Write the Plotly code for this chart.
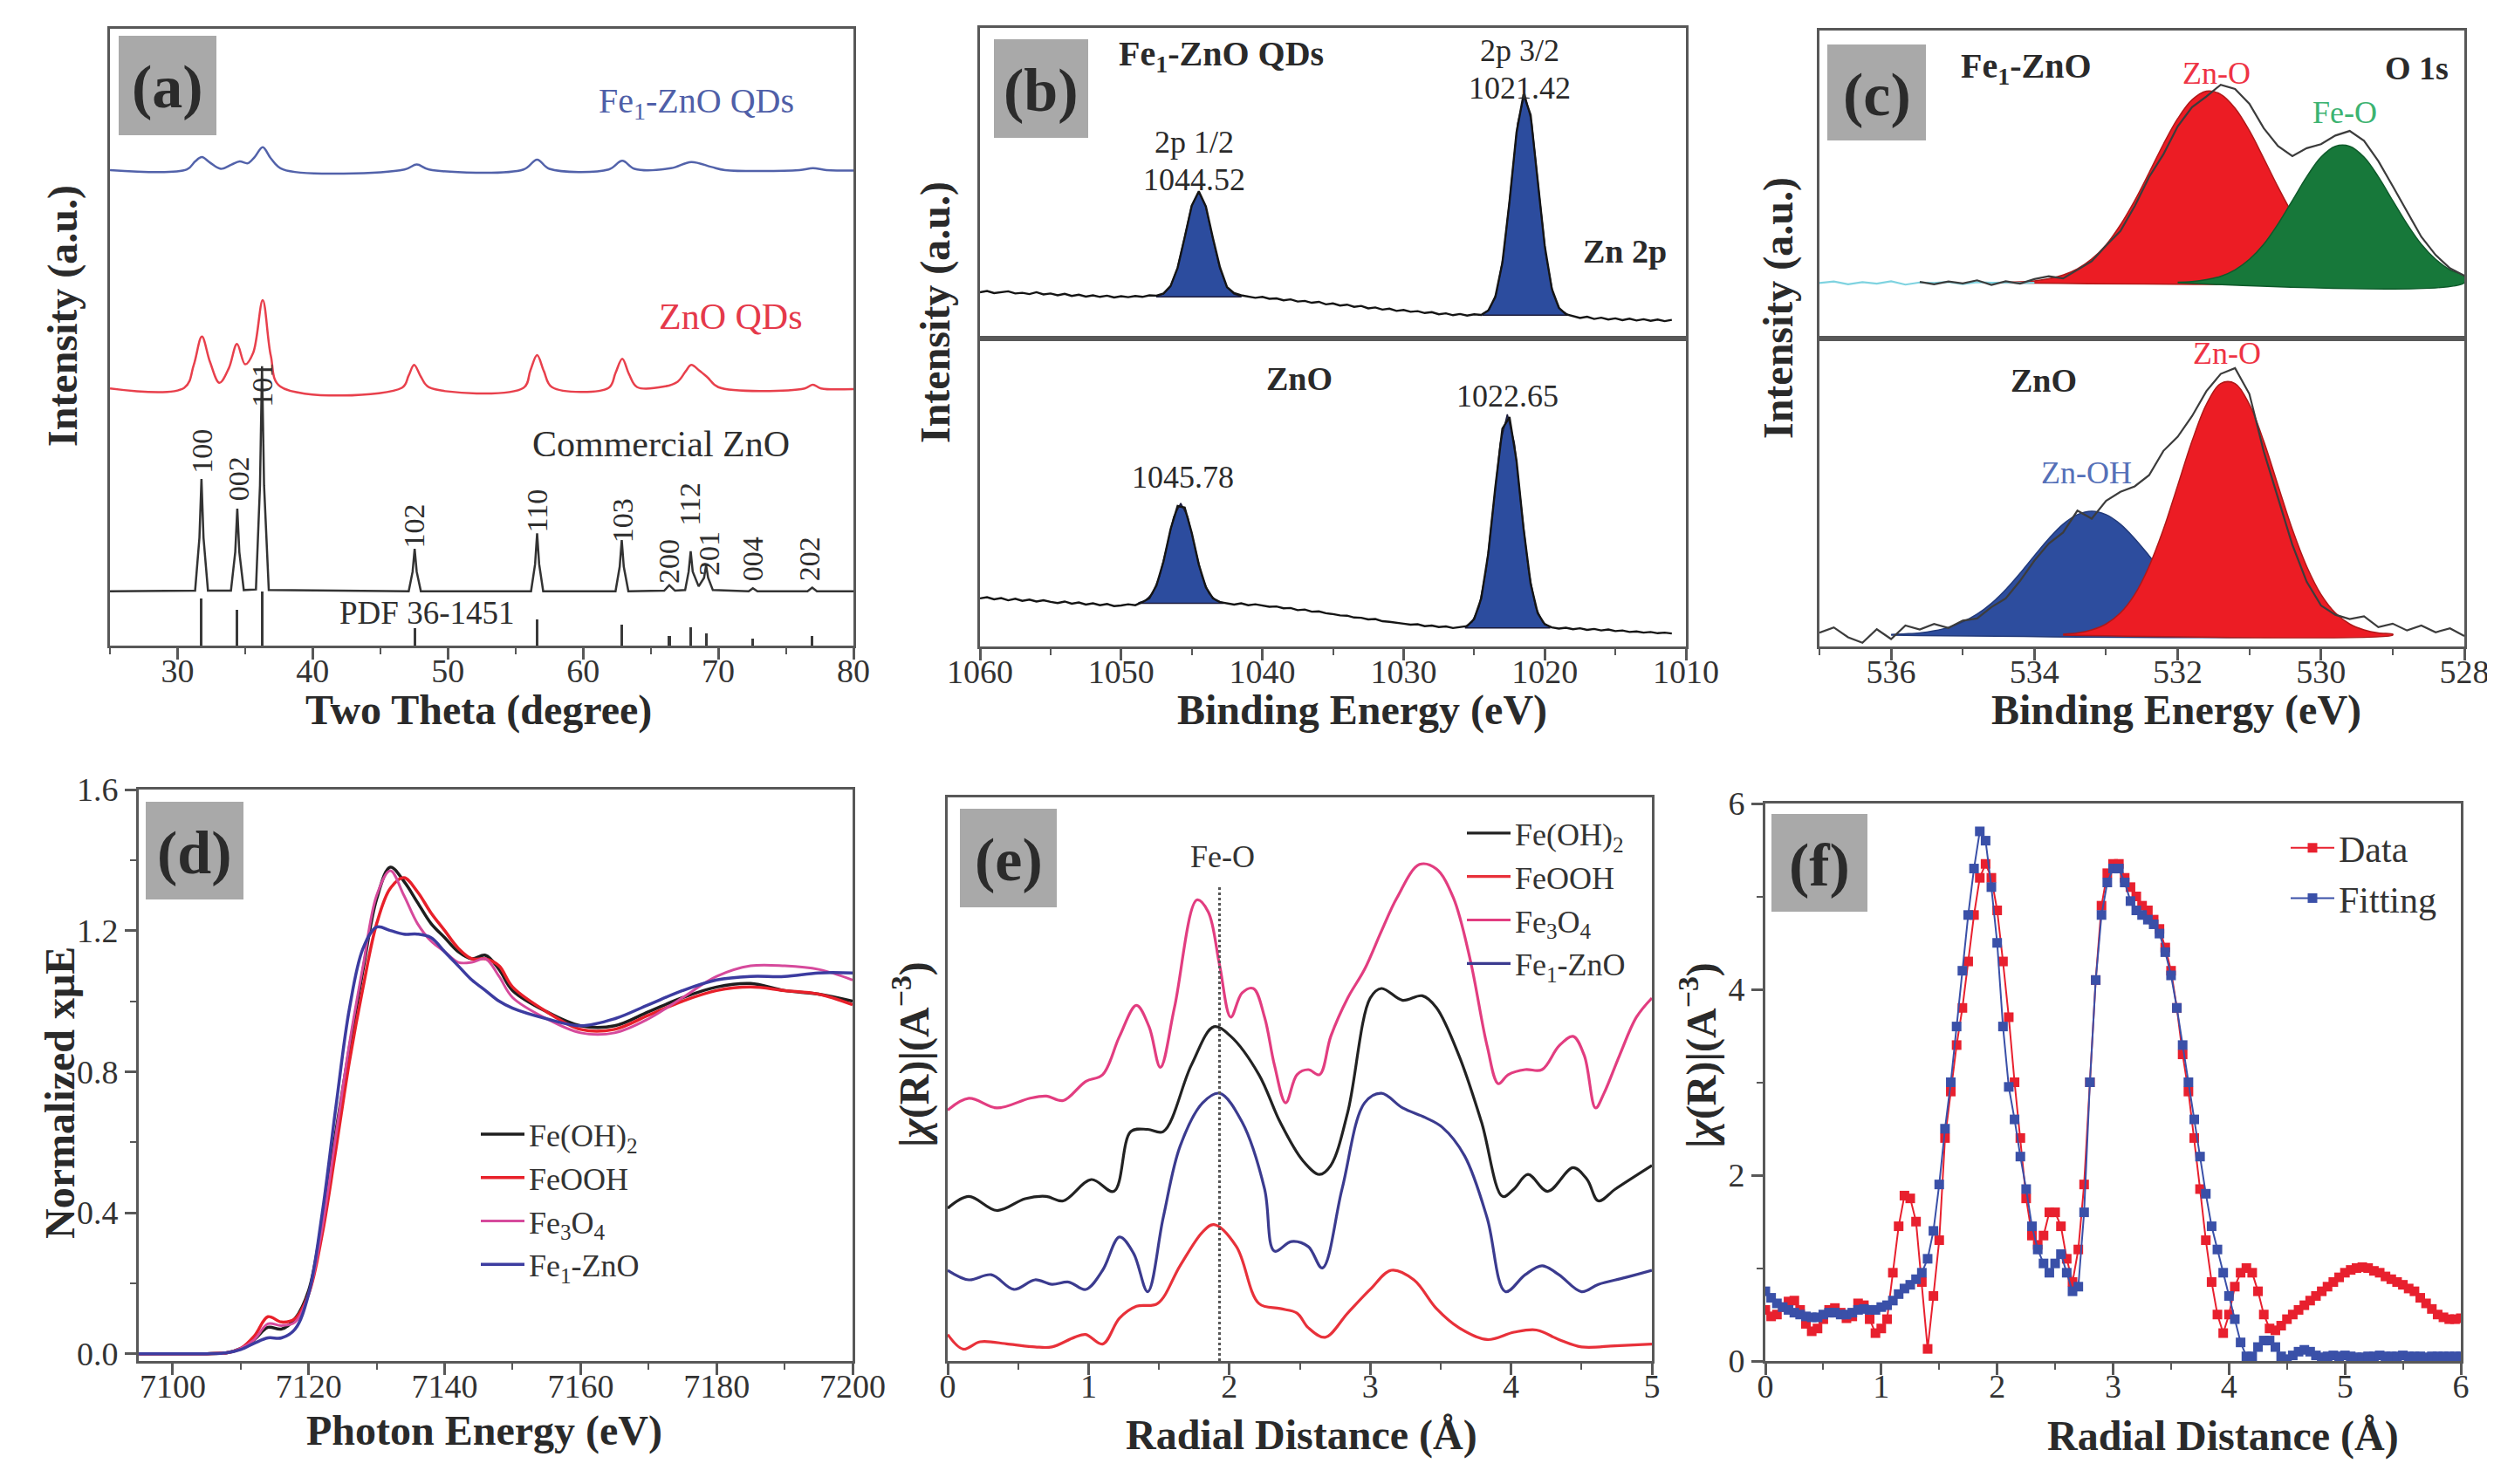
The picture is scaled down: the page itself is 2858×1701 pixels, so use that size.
import numpy as np
import plotly.graph_objects as go

W, H = 2858, 1701
FONT = "Liberation Serif"
FRAME = "#585858"
TXT = "#2a2a2a"


def px(x):
    return x / W


def py(y):
    return 1 - y / H


# ---------------- (a) XRD ----------------
xrd_fe_x = [25, 30.7, 31.3, 31.8, 32.4, 33.2, 34.0, 34.6, 35.2, 35.7, 36.3, 36.9, 37.8, 46.8, 47.7, 48.6,
            55.6, 56.6, 57.5, 61.9, 62.9, 63.8, 66.5, 68.0, 69.5, 70.5, 76.0, 77.0, 78.0, 80]
xrd_fe_y = [77.1, 77.2, 78.5, 79.2, 78.3, 77.3, 78.0, 78.5, 78.2, 79.2, 80.8, 79.0, 77.2, 77.2, 78.0, 77.2,
            77.2, 78.8, 77.3, 77.2, 78.6, 77.3, 77.4, 78.4, 77.6, 77.1, 77.1, 77.4, 77.1, 77.0]
xrd_qd_x = [25, 30.5, 31.2, 31.8, 32.4, 33.1, 33.8, 34.4, 35.0, 35.6, 36.3, 36.9, 37.6, 46.6, 47.1, 47.5,
            48.0, 48.6, 55.6, 56.1, 56.6, 57.1, 57.7, 61.9, 62.4, 62.9, 63.4, 64.0, 66.0, 67.0, 67.6, 68.0,
            68.6, 69.2, 70.0, 76.4, 77.0, 77.6, 80]
xrd_qd_y = [41.7, 41.8, 45.5, 50.1, 46.0, 42.6, 45.0, 48.9, 45.6, 47.5, 56.0, 47.0, 42.0, 41.8, 43.8, 45.5,
            43.6, 41.9, 41.8, 44.6, 47.1, 44.5, 41.9, 41.8, 44.2, 46.5, 44.0, 41.9, 42.0, 42.8, 44.5, 45.5,
            44.6, 43.5, 41.9, 41.7, 42.3, 41.7, 41.6]
xrd_comm_x = [25.0, 31.3, 31.62, 31.77, 31.92, 32.25, 33.95, 34.27, 34.42, 34.57, 34.9, 35.8, 36.1, 36.25,
              36.4, 36.75, 47.1, 47.39, 47.54, 47.69, 48.0, 56.15, 56.45, 56.6, 56.75, 57.05, 62.4, 62.71,
              62.86, 63.01, 63.35, 66.0, 66.38, 66.8, 67.55, 67.81, 67.96, 68.11, 68.55, 68.95, 69.1, 69.25,
              69.6, 72.25, 72.56, 72.9, 76.6, 76.95, 77.3, 80.0]
xrd_comm_y = [8.8, 8.9, 17.5, 27.0, 17.5, 8.9, 8.9, 15.2, 22.2, 15.2, 9.0, 9.1, 26.0, 45.3,
              26.0, 9.0, 8.8, 12.0, 15.7, 12.0, 8.8, 8.8, 13.2, 18.2, 13.2, 8.8, 8.8, 12.8,
              17.1, 12.8, 8.8, 8.9, 9.8, 8.9, 9.0, 12.0, 15.3, 12.0, 9.6, 11.0, 13.0, 11.0,
              9.0, 8.8, 9.3, 8.8, 8.8, 9.4, 8.8, 8.8]
pdf_pos = [31.77, 34.42, 36.25, 47.54, 56.60, 62.86, 66.38, 67.96, 69.10, 72.56, 76.95]
pdf_int = [7.6, 5.8, 8.8, 2.8, 4.2, 3.4, 1.5, 3.0, 2.0, 1.2, 1.5]
miller_names = ["100", "002", "101", "102", "110", "103", "200", "112", "201", "004", "202"]
miller_x = [31.8, 34.5, 36.3, 47.5, 56.6, 62.9, 66.3, 67.9, 69.3, 72.5, 76.7]
miller_y = [31.5, 27.0, 42.2, 19.4, 21.8, 20.2, 13.7, 22.9, 14.9, 14.1, 14.1]

# ---------------- (b) Zn 2p ----------------
zn_x = list(np.round(np.arange(1060, 1010.9, -0.5), 1))
zn_top_y = [14.9, 15.3, 14.6, 14.8, 15.2, 14.5, 14.7, 14.3, 14.9, 14.2,
            14.5, 13.9, 14.4, 13.7, 14.1, 13.5, 13.9, 13.4, 13.8, 13.2,
            13.6, 13.3, 13.7, 13.4, 13.9, 13.8, 14.5, 16.9, 22.8, 32.6,
            42.8, 47.4, 42.5, 32.3, 22.9, 16.5, 14.6, 13.9, 13.5, 13.1,
            13.4, 12.8, 12.9, 12.3, 12.6, 11.9, 12.1, 11.5, 11.8, 11.0,
            11.3, 10.6, 10.9, 10.2, 10.5, 9.7, 10.0, 9.3, 9.6, 8.9,
            9.2, 8.6, 8.8, 8.2, 8.5, 7.8, 8.1, 7.5, 7.9, 7.4,
            7.8, 7.6, 9.0, 13.4, 24.4, 43.9, 66.3, 78.6, 72.0, 51.3,
            29.8, 16.0, 9.9, 7.8, 7.2, 6.6, 7.0, 6.3, 6.7, 6.1,
            6.5, 5.9, 6.4, 5.8, 6.2, 5.7, 6.1, 5.6, 6.0]
zn_bot_y = [15.6, 16.0, 15.3, 15.7, 15.0, 15.5, 14.8, 15.2, 14.6, 15.0,
            14.5, 14.1, 14.6, 13.9, 14.3, 13.6, 14.0, 13.4, 13.8, 13.1,
            13.3, 13.7, 13.4, 14.4, 15.7, 19.8, 27.6, 38.1, 45.6, 45.1,
            36.9, 26.6, 19.2, 15.6, 14.4, 14.1, 13.6, 14.0, 13.4, 13.7,
            13.3, 12.9, 13.0, 12.4, 12.5, 11.8, 12.0, 11.3, 11.4, 10.8,
            10.5, 10.1, 10.0, 9.4, 9.3, 8.8, 8.9, 8.2, 8.0, 7.6,
            7.4, 7.1, 7.2, 6.6, 6.8, 6.3, 6.5, 6.0, 6.4, 6.6,
            8.9, 15.6, 30.2, 51.7, 70.7, 74.5, 60.4, 38.3, 20.4, 10.8,
            7.2, 6.2, 5.8, 6.1, 5.6, 5.9, 5.4, 5.7, 5.2, 5.5,
            5.0, 5.2, 4.7, 4.9, 4.5, 4.7, 4.3, 4.5, 4.2]
zn_top_p1_x = [1047.52, 1047.02, 1046.52, 1046.02, 1045.52, 1045.02, 1044.52, 1044.02, 1043.52, 1043.02,
               1042.52, 1042.02, 1041.52]
zn_top_p1_y = [13.6, 14.3, 16.7, 22.6, 32.4, 42.6, 47.2, 42.6, 32.4, 22.6, 16.7, 14.3, 13.6]
zn_top_p1_base = 13.4
zn_top_p2_x = [1024.42, 1023.92, 1023.42, 1022.92, 1022.42, 1021.92, 1021.42, 1020.92, 1020.42, 1019.92,
               1019.42, 1018.92, 1018.42]
zn_top_p2_y = [7.9, 9.4, 14.6, 26.9, 47.6, 69.3, 78.9, 69.3, 47.6, 26.9, 14.6, 9.4, 7.9]
zn_top_p2_base = 7.5
zn_bot_p1_x = [1048.78, 1048.28, 1047.78, 1047.28, 1046.78, 1046.28, 1045.78, 1045.28, 1044.78, 1044.28,
               1043.78, 1043.28, 1042.78]
zn_bot_p1_y = [14.2, 14.9, 17.2, 22.8, 32.2, 42.1, 46.5, 42.1, 32.2, 22.8, 17.2, 14.9, 14.2]
zn_bot_p1_base = 14.0
zn_bot_p2_x = [1025.65, 1025.15, 1024.65, 1024.15, 1023.65, 1023.15, 1022.65, 1022.15, 1021.65, 1021.15,
               1020.65, 1020.15, 1019.65]
zn_bot_p2_y = [6.4, 7.9, 12.9, 24.9, 44.9, 66.0, 75.4, 66.0, 44.9, 24.9, 12.9, 7.9, 6.4]
zn_bot_p2_base = 6.0

# ---------------- (c) O 1s ----------------
o_top_base = 18.1
o_top_zno_x = list(np.round(np.arange(534.6, 528.55, -0.2), 1))
o_top_zno_y = [18.2, 18.2, 18.4, 18.7, 19.4, 20.6, 22.6, 25.8, 30.4, 36.9, 44.8, 53.8, 63.1, 71.4, 77.5, 80.3,
               79.3, 74.8, 67.5, 58.5, 49.2, 40.6, 33.4, 27.9, 24.0, 21.4, 19.9, 19.0, 18.5, 18.3, 18.2]
o_top_feo_x = list(np.round(np.arange(532.0, 527.95, -0.2), 1))
o_top_feo_y = [18.3, 18.5, 19.1, 20.2, 22.3, 25.7, 30.6, 37.2, 44.8, 52.5, 58.9, 62.4, 62.4, 58.9, 52.5,
               44.8, 37.2, 30.6, 25.7, 22.3, 20.2]
o_top_data_x = list(np.round(np.arange(535.6, 527.95, -0.2), 1))
o_top_data_y = [18.4, 17.6, 18.5, 17.9, 18.9, 17.4, 18.6, 17.8, 19.3, 20.2, 19.5, 22.4, 25.1, 30.2, 34.9,
                43.0, 52.4, 59.8, 68.9, 75.1, 78.6, 82.4, 81.0, 76.2, 68.3, 62.5, 59.2, 61.8, 63.1, 65.9,
                67.4, 64.2, 57.6, 49.5, 41.3, 33.0, 27.1, 22.8, 20.4]
o_top_fit_x = list(np.round(np.arange(537.0, 533.95, -0.2), 1))
o_top_fit_y = [18.0, 18.5, 17.6, 18.3, 17.8, 18.6, 17.5, 18.2, 18.0, 18.4, 17.7, 18.3, 18.1, 18.2, 18.0, 18.1]
o_bot_base = 3.7
o_bot_znoh_x = list(np.round(np.arange(536.0, 530.35, -0.2), 1))
o_bot_znoh_y = [3.9, 4.1, 4.4, 5.1, 6.2, 8.0, 10.5, 14.0, 18.5, 23.8, 29.5, 35.0, 39.7, 42.8, 43.9, 42.8,
                39.7, 35.0, 29.5, 23.8, 18.5, 14.0, 10.5, 8.0, 6.2, 5.1, 4.4, 4.1, 3.9]
o_bot_zno_x = list(np.round(np.arange(533.6, 528.95, -0.2), 1))
o_bot_zno_y = [4.0, 4.4, 5.4, 7.3, 10.9, 16.9, 26.0, 38.0, 52.3, 66.7, 78.6, 85.4, 85.4, 78.6, 66.7, 52.3,
               38.0, 26.0, 16.9, 10.9, 7.3, 5.4, 4.4, 4.0]
o_bot_data_x = list(np.round(np.arange(537.0, 527.95, -0.2), 1))
o_bot_data_y = [4.5, 6.2, 3.0, 1.2, 5.6, 2.4, 6.8, 5.5, 7.3, 6.0, 8.4, 9.1, 12.8, 15.6, 21.3, 27.9, 33.4,
                37.0, 44.1, 41.5, 47.3, 50.2, 52.0, 55.6, 63.5, 68.1, 74.8, 82.9, 88.5, 90.4, 82.0, 63.4,
                48.2, 33.0, 21.0, 13.3, 10.3, 8.9, 9.8, 6.3, 7.4, 5.2, 6.8, 4.6, 5.9, 3.4]

# ---------------- (d) XANES ----------------
xanes_x = [7095, 7100, 7105, 7108, 7110, 7112, 7114, 7116, 7118, 7120, 7122, 7124, 7126, 7128, 7130, 7132,
           7134, 7136, 7138, 7140, 7142, 7144, 7146, 7148, 7150, 7155, 7160, 7165, 7170, 7175, 7180, 7185,
           7190, 7195, 7200]
xanes_feoh2 = [0, 0, 0, 0.003, 0.015, 0.04, 0.075, 0.07, 0.10, 0.18, 0.38, 0.63, 0.87, 1.09, 1.29, 1.38,
               1.34, 1.28, 1.22, 1.18, 1.14, 1.12, 1.13, 1.09, 1.03, 0.97, 0.93, 0.93, 0.97, 1.01, 1.04,
               1.05, 1.03, 1.02, 1.00]
xanes_feooh = [0, 0, 0, 0.003, 0.015, 0.05, 0.105, 0.09, 0.10, 0.17, 0.34, 0.58, 0.83, 1.04, 1.22, 1.32,
               1.35, 1.31, 1.25, 1.20, 1.15, 1.12, 1.12, 1.10, 1.04, 0.97, 0.92, 0.92, 0.96, 1.00, 1.03,
               1.04, 1.03, 1.02, 0.99]
xanes_fe3o4 = [0, 0, 0, 0.003, 0.015, 0.04, 0.085, 0.08, 0.09, 0.17, 0.36, 0.62, 0.88, 1.10, 1.30, 1.37,
               1.30, 1.22, 1.17, 1.14, 1.11, 1.11, 1.12, 1.07, 1.01, 0.95, 0.91, 0.91, 0.95, 1.01, 1.07,
               1.10, 1.10, 1.09, 1.06]
xanes_fe1zno = [0, 0, 0, 0.003, 0.012, 0.03, 0.045, 0.045, 0.07, 0.17, 0.40, 0.70, 0.98, 1.15, 1.21, 1.20,
                1.19, 1.19, 1.18, 1.14, 1.10, 1.06, 1.03, 1.00, 0.98, 0.95, 0.93, 0.95, 0.99, 1.03, 1.06,
                1.07, 1.07, 1.08, 1.08]

# ---------------- (e) EXAFS references ----------------
exafs_fe3o4_x = [0, 0.15, 0.35, 0.58, 0.70, 0.82, 0.98, 1.10, 1.22, 1.34, 1.43, 1.51, 1.61, 1.77, 1.85, 1.93,
                 2.01, 2.09, 2.17, 2.25, 2.32, 2.40, 2.48, 2.56, 2.64, 2.72, 2.84, 2.96, 3.08, 3.19, 3.35,
                 3.47, 3.59, 3.71, 3.83, 3.91, 3.98, 4.10, 4.22, 4.34, 4.44, 4.52, 4.60, 4.66, 4.77, 4.89, 5.0]
exafs_fe3o4_y = [44.5, 46.6, 44.9, 46.6, 47.0, 46.2, 49.6, 50.8, 57.6, 63.1, 59.3, 52.1, 62.7, 81.8, 79.7,
                 70.3, 61.0, 65.3, 66.1, 61.0, 52.5, 45.8, 50.8, 51.7, 50.8, 57.6, 64.4, 69.5, 76.3, 82.2,
                 88.1, 87.3, 82.2, 71.2, 55.9, 49.2, 50.8, 51.7, 51.7, 55.9, 57.6, 54.2, 44.9, 47.5, 54.2,
                 61.0, 64.4]
exafs_feoh2_x = [0, 0.15, 0.35, 0.55, 0.70, 0.82, 1.02, 1.18, 1.30, 1.42, 1.53, 1.73, 1.89, 2.01, 2.21,
                 2.36, 2.52, 2.64, 2.72, 2.84, 3.00, 3.08, 3.23, 3.37, 3.47, 3.63, 3.79, 3.94, 4.02, 4.12,
                 4.26, 4.44, 4.54, 4.62, 4.74, 5.0]
exafs_feoh2_y = [27.1, 29.2, 26.7, 28.8, 29.2, 28.4, 32.2, 30.1, 40.7, 41.1, 40.7, 52.5, 59.3, 57.6, 50.8,
                 42.4, 35.6, 33.1, 34.7, 44.1, 64.4, 66.1, 64.0, 64.8, 62.7, 54.2, 42.4, 29.2, 30.5, 33.1,
                 30.1, 34.3, 32.2, 28.4, 30.5, 34.7]
exafs_fe1_x = [0, 0.15, 0.31, 0.47, 0.62, 0.74, 0.86, 0.98, 1.10, 1.22, 1.32, 1.42, 1.53, 1.65, 1.81, 1.93,
               2.09, 2.25, 2.32, 2.44, 2.56, 2.66, 2.80, 2.96, 3.08, 3.23, 3.39, 3.51, 3.67, 3.83, 3.96,
               4.10, 4.22, 4.34, 4.50, 4.62, 4.81, 5.0]
exafs_fe1_y = [16.1, 14.4, 15.3, 12.7, 14.4, 13.6, 14.0, 12.7, 16.1, 22.0, 19.1, 12.3, 25.4, 38.1, 45.8,
               47.5, 42.4, 30.5, 19.5, 21.2, 20.3, 16.5, 30.5, 45.8, 47.5, 44.9, 43.2, 41.5, 36.4, 25.4,
               12.3, 15.3, 16.9, 15.3, 12.3, 13.6, 14.8, 16.1]
exafs_feooh_x = [0, 0.11, 0.23, 0.43, 0.62, 0.74, 0.90, 0.98, 1.10, 1.22, 1.34, 1.49, 1.65, 1.81, 1.89,
                 2.05, 2.21, 2.36, 2.48, 2.56, 2.68, 2.84, 3.00, 3.15, 3.31, 3.47, 3.63, 3.83, 4.02, 4.18,
                 4.34, 4.50, 4.74, 5.0]
exafs_feooh_y = [4.7, 2.1, 3.4, 3.0, 2.5, 2.5, 4.2, 4.7, 3.0, 7.6, 9.7, 10.2, 16.9, 22.9, 24.2, 20.3,
                 10.2, 9.3, 8.5, 5.9, 4.2, 8.5, 12.7, 16.1, 14.4, 9.3, 5.9, 3.8, 5.1, 5.5, 3.8, 2.5, 2.7, 3.0]
fe_o_position = 1.93

# ---------------- (f) fitting ----------------
fit_r = list(np.round(np.arange(0, 6.001, 0.05), 2))
fit_data = [0.55, 0.48, 0.50, 0.58, 0.64, 0.65, 0.55, 0.40, 0.32, 0.35,
            0.45, 0.55, 0.57, 0.52, 0.46, 0.48, 0.62, 0.60, 0.45, 0.30,
            0.35, 0.45, 0.95, 1.45, 1.78, 1.75, 1.50, 0.85, 0.13, 0.70,
            1.30, 2.40, 2.90, 3.40, 3.80, 4.30, 4.80, 5.20, 5.35, 5.20,
            4.85, 4.30, 3.70, 3.00, 2.40, 1.75, 1.35, 1.25, 1.35, 1.60,
            1.60, 1.45, 1.10, 0.85, 1.20, 1.90, 3.00, 4.10, 4.90, 5.25,
            5.35, 5.35, 5.20, 5.10, 5.00, 4.90, 4.85, 4.75, 4.65, 4.45,
            4.20, 3.80, 3.30, 2.90, 2.40, 1.85, 1.30, 0.85, 0.50, 0.30,
            0.50, 0.80, 0.95, 1.00, 0.95, 0.75, 0.50, 0.35, 0.33, 0.38,
            0.45, 0.50, 0.55, 0.60, 0.65, 0.70, 0.75, 0.80, 0.85, 0.90,
            0.95, 0.98, 1.00, 1.01, 1.00, 0.97, 0.95, 0.91, 0.88, 0.85,
            0.82, 0.78, 0.75, 0.68, 0.62, 0.56, 0.50, 0.47, 0.45, 0.45,
            0.46]
fit_model = [0.75, 0.68, 0.62, 0.58, 0.55, 0.52, 0.50, 0.48, 0.47, 0.47,
             0.50, 0.52, 0.52, 0.50, 0.50, 0.52, 0.55, 0.56, 0.55, 0.55,
             0.58, 0.60, 0.65, 0.72, 0.78, 0.82, 0.88, 0.95, 1.10, 1.40,
             1.90, 2.50, 3.00, 3.60, 4.20, 4.80, 5.30, 5.70, 5.60, 5.10,
             4.50, 3.60, 2.95, 2.60, 2.20, 1.85, 1.45, 1.20, 1.05, 0.95,
             1.05, 1.15, 0.95, 0.75, 0.80, 1.60, 3.00, 4.10, 4.80, 5.15,
             5.30, 5.30, 5.15, 4.95, 4.85, 4.80, 4.75, 4.70, 4.60, 4.40,
             4.15, 3.80, 3.40, 3.00, 2.60, 2.20, 1.80, 1.45, 1.20, 0.95,
             0.70, 0.45, 0.20, 0.05, 0.05, 0.15, 0.22, 0.22, 0.15, 0.05,
             0.02, 0.06, 0.10, 0.12, 0.10, 0.06, 0.04, 0.05, 0.06, 0.05,
             0.06, 0.05, 0.04, 0.04, 0.05, 0.05, 0.06, 0.05, 0.05, 0.05,
             0.06, 0.05, 0.05, 0.05, 0.04, 0.05, 0.05, 0.05, 0.05, 0.05,
             0.05]

assert len(zn_x) == len(zn_top_y) == len(zn_bot_y)
assert len(fit_r) == len(fit_data) == len(fit_model)

fig = go.Figure()


def line(x, y, ax, color, width=2.5, shape="linear", name=None, legend=None, **kw):
    fig.add_trace(go.Scatter(x=x, y=y, xaxis="x" + ax, yaxis="y" + ax, mode="lines",
                             line=dict(color=color, width=width, shape=shape),
                             name=name, showlegend=legend is not None,
                             legend=legend, hoverinfo="skip", **kw))


def peak(x, y, base, ax, fill, outline="#1c1c3c", shape="linear"):
    fig.add_trace(go.Scatter(x=list(x) + [x[-1], x[0]], y=list(y) + [base, base],
                             xaxis="x" + ax, yaxis="y" + ax, mode="lines", fill="toself",
                             fillcolor=fill, line=dict(color=outline, width=1.5, shape=shape),
                             showlegend=False, hoverinfo="skip"))


# (a)
fig.add_trace(go.Bar(x=pdf_pos, y=pdf_int, width=0.2, marker=dict(color="#3a3a3a", line=dict(width=0)),
                     xaxis="x", yaxis="y", showlegend=False, hoverinfo="skip"))
line(xrd_comm_x, xrd_comm_y, "", "#333333", 2.5)
line(xrd_qd_x, xrd_qd_y, "", "#e8404c", 2.5, "spline")
line(xrd_fe_x, xrd_fe_y, "", "#5262aa", 2.5, "spline")

# (b)
BLUEFILL = "#2c4c9e"
peak(zn_top_p1_x, zn_top_p1_y, zn_top_p1_base, "2", BLUEFILL)
peak(zn_top_p2_x, zn_top_p2_y, zn_top_p2_base, "2", BLUEFILL)
line(zn_x, zn_top_y, "2", "#151515", 2.4)
peak(zn_bot_p1_x, zn_bot_p1_y, zn_bot_p1_base, "3", BLUEFILL)
peak(zn_bot_p2_x, zn_bot_p2_y, zn_bot_p2_base, "3", BLUEFILL)
line(zn_x, zn_bot_y, "3", "#151515", 2.4)

# (c)
peak(o_top_zno_x, o_top_zno_y, o_top_base, "4", "#ec1c24", "#b01818", "spline")
peak(o_top_feo_x, o_top_feo_y, o_top_base, "4", "#17783a", "#0e5a2a", "spline")
line(o_top_fit_x, o_top_fit_y, "4", "#7fd3e0", 2.2)
line(o_top_data_x, o_top_data_y, "4", "#3c3c3c", 2.2)
peak(o_bot_znoh_x, o_bot_znoh_y, o_bot_base, "5", "#2d4d9e", "#223a7a", "spline")
peak(o_bot_zno_x, o_bot_zno_y, o_bot_base, "5", "#ec1c24", "#b01818", "spline")
line(o_bot_data_x, o_bot_data_y, "5", "#3c3c3c", 2.2)

# (d)
line(xanes_x, xanes_feoh2, "6", "#1e1e1e", 3.5, "spline", "Fe(OH)<sub>2</sub>", "legend")
line(xanes_x, xanes_feooh, "6", "#e8202a", 3.5, "spline", "FeOOH", "legend")
line(xanes_x, xanes_fe3o4, "6", "#d64a9c", 3.0, "spline", "Fe<sub>3</sub>O<sub>4</sub>", "legend")
line(xanes_x, xanes_fe1zno, "6", "#3c3ca0", 3.5, "spline", "Fe<sub>1</sub>-ZnO", "legend")

# (e)
line(exafs_feoh2_x, exafs_feoh2_y, "7", "#222222", 3.2, "spline", "Fe(OH)<sub>2</sub>", "legend2")
line(exafs_feooh_x, exafs_feooh_y, "7", "#e8313a", 3.2, "spline", "FeOOH", "legend2")
line(exafs_fe3o4_x, exafs_fe3o4_y, "7", "#e23d80", 3.2, "spline", "Fe<sub>3</sub>O<sub>4</sub>", "legend2")
line(exafs_fe1_x, exafs_fe1_y, "7", "#3b3b8f", 3.2, "spline", "Fe<sub>1</sub>-ZnO", "legend2")

# (f)
fig.add_trace(go.Scatter(x=fit_r, y=fit_data, xaxis="x8", yaxis="y8", mode="lines+markers",
                         line=dict(color="#e8202e", width=2),
                         marker=dict(symbol="square", size=11, color="#e8202e"),
                         name="Data", legend="legend3", hoverinfo="skip"))
fig.add_trace(go.Scatter(x=fit_r, y=fit_model, xaxis="x8", yaxis="y8", mode="lines+markers",
                         line=dict(color="#3a50a8", width=2),
                         marker=dict(symbol="square", size=11, color="#3a50a8"),
                         name="Fitting", legend="legend3", hoverinfo="skip"))

# ---------------- axes ----------------
TICKFONT = dict(family=FONT, size=38, color="#333333")


def axis(d0, d1, rng, anchor, dtick=None, minor=None, tick0=None, labels=True, fmt=None, standoff=0):
    d = dict(domain=[d0, d1], range=rng, anchor=anchor, showline=True, mirror=True,
             linecolor=FRAME, linewidth=3, showgrid=False, zeroline=False, tickfont=TICKFONT,
             fixedrange=True, automargin=False)
    if labels:
        d.update(ticks="outside", ticklen=13, tickwidth=2.5, tickcolor=FRAME, dtick=dtick, showticklabels=True,
                 minor=dict(dtick=minor, ticks="outside", ticklen=7, tickwidth=2, tickcolor=FRAME),
                 ticklabelstandoff=standoff)
        if tick0 is not None:
            d["tick0"] = tick0
        if fmt:
            d["tickformat"] = fmt
    else:
        d.update(ticks="", showticklabels=False)
    return d


def xaxis(x0, x1, rng, anchor, dtick=None, minor=None, tick0=None, labels=True):
    return axis(px(x0), px(x1), rng, anchor, dtick, minor, tick0, labels, None, -20)


def yaxis(y0, y1, rng, anchor, dtick=None, minor=None, labels=False, fmt=None):
    return axis(py(y1), py(y0), rng, anchor, dtick, minor, None, labels, fmt, 0)


layout_axes = dict(
    xaxis=xaxis(118, 970, [25, 80], "y", 10, 5, 0),
    yaxis=yaxis(25, 732, [0, 100], "x"),
    xaxis2=xaxis(1115, 1924, [1060, 1010], "y2", labels=False),
    yaxis2=yaxis(24, 380, [0, 100], "x2"),
    xaxis3=xaxis(1115, 1924, [1060, 1010], "y3", 10, 5, 0),
    yaxis3=yaxis(380, 733, [0, 100], "x3"),
    xaxis4=xaxis(2077, 2816, [537, 528], "y4", labels=False),
    yaxis4=yaxis(27, 380, [0, 100], "x4"),
    xaxis5=xaxis(2077, 2816, [537, 528], "y5", 2, 1, 0),
    yaxis5=yaxis(380, 733, [0, 100], "x5"),
    xaxis6=xaxis(151, 969, [7095, 7200], "y6", 20, 10, 7100),
    yaxis6=yaxis(897, 1552, [-0.0205, 1.6], "x6", 0.4, 0.2, True, ".1f"),
    xaxis7=xaxis(1078, 1885, [0, 5], "y7", 1, 0.5, 0),
    yaxis7=yaxis(906, 1552, [0, 100], "x7"),
    xaxis8=xaxis(2015, 2812, [0, 6], "y8", 1, 0.5, 0),
    yaxis8=yaxis(913, 1552, [0, 6], "x8", 2, 1, True),
)

# ---------------- text ----------------
ann = []


def text(t, x, y, size, color=TXT, bold=False, angle=0, xref="paper", yref="paper", xanchor="center"):
    if bold:
        t = "<b>" + t + "</b>"
    ann.append(dict(text=t, x=px(x) if xref == "paper" else x, y=py(y) if yref == "paper" else y,
                    xref=xref, yref=yref, showarrow=False, textangle=angle, xanchor=xanchor,
                    yanchor="middle", font=dict(family=FONT, size=size, color=color)))


# axis titles
TS = 48
text("Two Theta (degree)", 540, 806, TS, bold=True)
text("Binding Energy (eV)", 1553, 806, TS, bold=True)
text("Binding Energy (eV)", 2486, 806, TS, bold=True)
text("Photon Energy (eV)", 547, 1632, TS, bold=True)
text("Radial Distance (Å)", 1483, 1637, TS, bold=True)
text("Radial Distance (Å)", 2539, 1638, TS, bold=True)
text("Intensity (a.u.)", 64, 354, TS, bold=True, angle=-90)
text("Intensity (a.u.)", 1064, 350, TS, bold=True, angle=-90)
text("Intensity (a.u.)", 2030, 345, TS, bold=True, angle=-90)
text("Normalized xμE", 60, 1245, TS, bold=True, angle=-90)
text("|<i>χ</i>(R)|(A<sup>−3</sup>)", 1036, 1201, TS, bold=True, angle=-90)
text("|<i>χ</i>(R)|(A<sup>−3</sup>)", 1938, 1202, TS, bold=True, angle=-90)

# (a)
text("Fe<sub>1</sub>-ZnO QDs", 790, 110, 40, "#4f5fa8")
text("ZnO QDs", 829, 355, 42, "#e5394a")
text("Commercial ZnO", 749, 501, 42, "#2e2e2e")
text("PDF 36-1451", 481, 694, 37, "#2e2e2e")
for nm, mx, my in zip(miller_names, miller_x, miller_y):
    text(nm, mx, my, 34, "#2e2e2e", angle=-90, xref="x", yref="y")

# (b)
text("Fe<sub>1</sub>-ZnO QDs", 1391, 56, 40, TXT, True)
text("2p 3/2", 1733, 50, 36)
text("1021.42", 1733, 93, 36)
text("2p 1/2", 1360, 155, 36)
text("1044.52", 1360, 198, 36)
text("Zn 2p", 1854, 280, 38, TXT, True)
text("ZnO", 1481, 426, 38, TXT, True)
text("1022.65", 1720, 446, 36)
text("1045.78", 1347, 539, 36)

# (c)
text("Fe<sub>1</sub>-ZnO", 2314, 70, 40, TXT, True)
text("Zn-O", 2532, 76, 36, "#ee3344")
text("O 1s", 2761, 70, 38, TXT, True)
text("Fe-O", 2679, 121, 36, "#3cb371")
text("ZnO", 2334, 428, 38, TXT, True)
text("Zn-O", 2544, 397, 36, "#ee3344")
text("Zn-OH", 2383, 534, 36, "#5570b8")

# (e)
text("Fe-O", 1.95, 89.5, 36, "#333333", xref="x7", yref="y7")

# panel letters
boxes = [("(a)", 128, 33, 240, 147), ("(b)", 1131, 37, 1239, 150), ("(c)", 2086, 43, 2199, 153),
         ("(d)", 159, 911, 271, 1023), ("(e)", 1092, 919, 1203, 1032), ("(f)", 2022, 925, 2132, 1037)]
shapes = []
for lab, x0, y0, x1, y1 in boxes:
    shapes.append(dict(type="rect", xref="paper", yref="paper", x0=px(x0), x1=px(x1), y0=py(y1), y1=py(y0),
                       fillcolor="#a9a9a9", line=dict(width=0), layer="above"))
    text(lab, (x0 + x1) / 2, (y0 + y1) / 2 + 2, 70, "#2b2b2b", True)

shapes.append(dict(type="line", xref="x7", yref="y7", x0=fe_o_position, x1=fe_o_position, y0=0, y1=84.5,
                   line=dict(color="#555555", width=3, dash="dot")))

LEG = dict(bgcolor="rgba(0,0,0,0)", borderwidth=0, xanchor="left", yanchor="top",
           tracegroupgap=0, itemwidth=50, traceorder="normal")
fig.update_layout(
    width=W, height=H, margin=dict(l=0, r=0, t=0, b=0, autoexpand=False),
    paper_bgcolor="white", plot_bgcolor="white",
    showlegend=True,
    legend=dict(LEG, x=px(538), y=py(1262), font=dict(family=FONT, size=36, color="#333")),
    legend2=dict(LEG, x=px(1668), y=py(917), font=dict(family=FONT, size=36, color="#333")),
    legend3=dict(LEG, x=px(2612), y=py(930), font=dict(family=FONT, size=42, color="#333")),
    annotations=ann, shapes=shapes, bargap=0,
    **layout_axes,
)

fig.write_html("out.html")
